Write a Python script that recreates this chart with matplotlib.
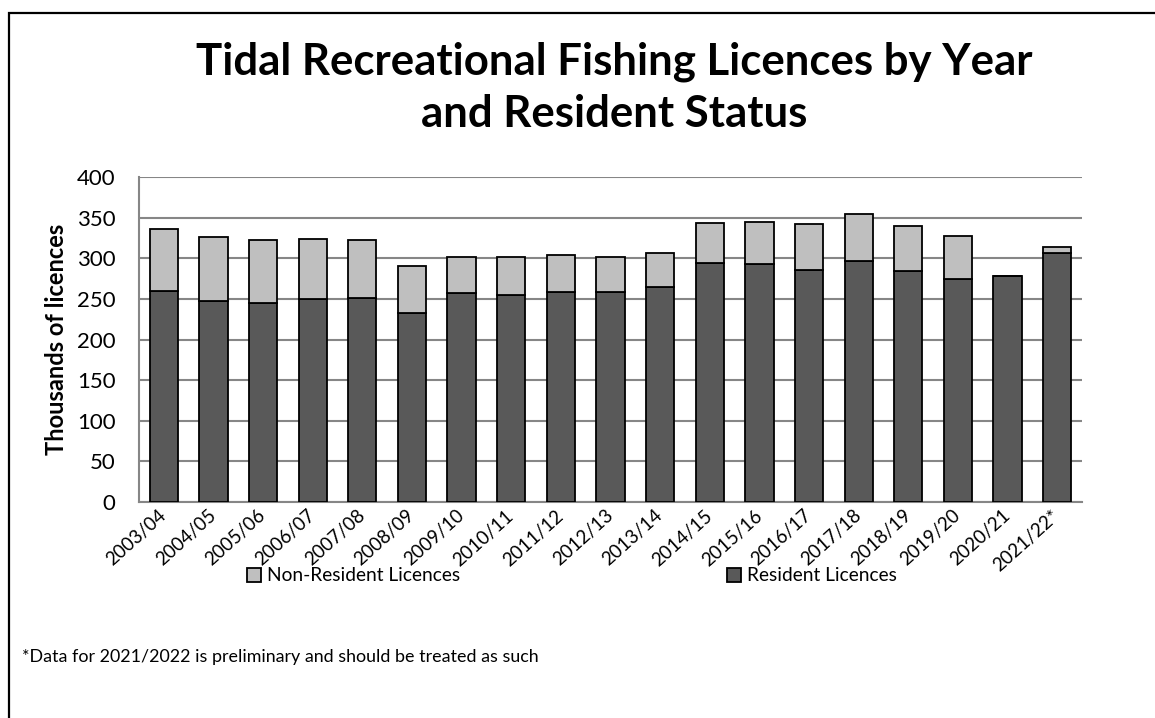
import numpy as np
import matplotlib
matplotlib.use("Agg")
import matplotlib.pyplot as plt
from matplotlib.patches import Rectangle

plt.rcParams['font.family'] = ['Lato', 'DejaVu Sans']

years = ["2003/04", "2004/05", "2005/06", "2006/07", "2007/08", "2008/09",
         "2009/10", "2010/11", "2011/12", "2012/13", "2013/14", "2014/15",
         "2015/16", "2016/17", "2017/18", "2018/19", "2019/20", "2020/21",
         "2021/22*"]

# thousands of licences
resident = [260, 248, 245, 250, 251, 233, 257, 255, 259, 258, 265, 294,
            293, 286, 296, 284, 274, 278, 307]
total = [336, 326, 322, 324, 322, 290, 302, 301, 304, 302, 306, 343,
         345, 342, 354, 340, 327, 278, 314]
non_resident = [t - r for t, r in zip(total, resident)]

RES_COLOR = "#595959"
NONRES_COLOR = "#bfbfbf"
GRID_COLOR = "#868686"

fig = plt.figure(figsize=(11.55, 7.18), dpi=100)
ax = fig.add_axes([0.1203, 0.3008, 0.8165, 0.4527])

x = np.arange(len(years))
ax.bar(x, resident, width=0.57, color=RES_COLOR, edgecolor="black",
       linewidth=1.3, label="Resident Licences", zorder=3)
ax.bar(x, non_resident, bottom=resident, width=0.57, color=NONRES_COLOR,
       edgecolor="black", linewidth=1.3, label="Non-Resident Licences", zorder=3)

ax.set_xlim(-0.5, len(years) - 0.5)
ax.set_ylim(0, 400)
ax.set_yticks(range(0, 401, 50))
ax.yaxis.grid(True, color=GRID_COLOR, linewidth=1.5, zorder=0)
ax.set_axisbelow(True)

for side in ["top", "right"]:
    ax.spines[side].set_visible(False)
for side in ["left", "bottom"]:
    ax.spines[side].set_color(GRID_COLOR)
    ax.spines[side].set_linewidth(1.5)

ax.tick_params(axis="y", length=0, labelsize=16, pad=17)
ax.set_xticks(x)
ax.set_xticklabels(years, rotation=42, ha="right", va="center",
                   rotation_mode="anchor", fontsize=13.5)
ax.tick_params(axis="x", length=0, pad=8)
ax.set_ylabel("Thousands of licences", fontsize=17, fontweight="bold",
              labelpad=6)

fig.text(0.532, 0.878, "Tidal Recreational Fishing Licences by Year\nand Resident Status",
         ha="center", va="center", fontsize=31.5, fontweight="bold",
         linespacing=1.35)

handles, labels = ax.get_legend_handles_labels()
fig.legend(handles[::-1], labels[::-1], loc="center",
           bbox_to_anchor=(0.495, 0.198), ncol=2, frameon=False,
           fontsize=13.8, handlelength=0.75, handleheight=0.75,
           handletextpad=0.3, columnspacing=13.9)

fig.text(0.019, 0.085, "*Data for 2021/2022 is preliminary and should be treated as such",
         ha="left", va="center", fontsize=12.9)

# outer chart border (runs off right and bottom edges)
fig.patches.append(Rectangle((9 / 1155, -0.05), 1.2, 0.05 + (718 - 13) / 718,
                             transform=fig.transFigure, fill=False,
                             edgecolor="black", linewidth=1.6))

fig.savefig("out.png", dpi=100)
